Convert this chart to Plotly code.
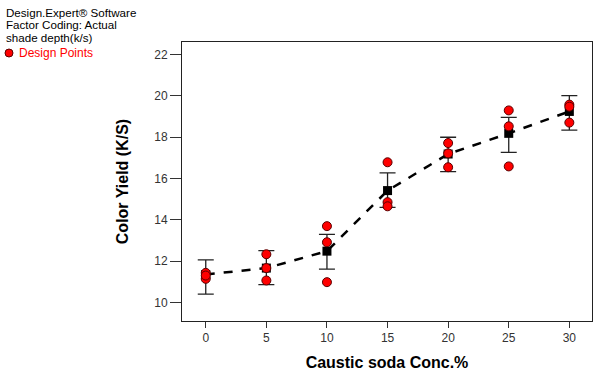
import plotly.graph_objects as go

conc = [0, 5, 10, 15, 20, 25, 30]
rep1 = [11.43, 12.33, 13.69, 16.78, 17.71, 19.29, 19.57]
rep2 = [11.14, 11.66, 12.91, 14.85, 17.21, 18.52, 19.47]
rep3 = [11.30, 11.06, 10.98, 14.65, 16.54, 16.58, 18.70]
mean_yield = [11.35, 11.66, 12.48, 15.41, 17.18, 18.18, 19.24]
err_plus = [0.71, 0.85, 0.81, 0.86, 0.81, 0.77, 0.77]
err_minus = [0.95, 0.80, 0.87, 0.81, 0.85, 0.92, 0.90]

header_lines = ["Design.Expert® Software", "Factor Coding: Actual", "shade depth(k/s)"]

FONT = "Arial, Liberation Sans, sans-serif"
PW, PH = 410, 279  # plot area size in px
L, T = 182, 42

def px(xp):
    return (xp - L) / PW

def py(yp):
    return 1 - (yp - T) / PH

fig = go.Figure()

fig.add_trace(go.Scatter(
    x=conc, y=mean_yield, mode="lines",
    line=dict(color="black", width=2.5, dash="dash"),
    showlegend=False, hoverinfo="skip"))

fig.add_trace(go.Scatter(
    x=conc, y=mean_yield, mode="markers",
    marker=dict(symbol="square", color="black", size=9),
    error_y=dict(type="data", symmetric=False, array=err_plus, arrayminus=err_minus,
                 color="#222222", thickness=1.3, width=8),
    showlegend=False))

xs = conc * 3
ys = rep1 + rep2 + rep3
fig.add_trace(go.Scatter(
    x=xs, y=ys, mode="markers", name="Design Points",
    marker=dict(symbol="circle", color="#ff0000", size=9,
                line=dict(color="#5a0000", width=1)),
    showlegend=False))

annotations = []
for i, line in enumerate(header_lines):
    annotations.append(dict(
        text=line, xref="paper", yref="paper", x=px(4), y=py(12.5 + 12.5 * i),
        xanchor="left", yanchor="middle", showarrow=False,
        font=dict(size=11.6, color="black", family=FONT)))
annotations.append(dict(
    text="Design Points", xref="paper", yref="paper", x=px(17), y=py(53),
    xanchor="left", yanchor="middle", showarrow=False,
    font=dict(size=12, color="#ff0000", family=FONT)))

fig.update_layout(
    width=600, height=375,
    margin=dict(l=L, r=600 - L - PW, t=T, b=375 - T - PH, autoexpand=False),
    paper_bgcolor="white", plot_bgcolor="white",
    font=dict(family=FONT, size=12, color="#333333"),
    xaxis=dict(range=[-1.96, 31.87], tickvals=conc, ticks="outside", ticklen=6,
               tickcolor="#333333", showgrid=False, zeroline=False, automargin=False,
               showline=True, linecolor="#222222", linewidth=1, mirror=True,
               title=dict(text="<b>Caustic soda Conc.%</b>", font=dict(size=16, color="black"),
                          standoff=12)),
    yaxis=dict(range=[9.1, 22.6], tickvals=[10, 12, 14, 16, 18, 20, 22], ticks="outside",
               ticklen=11, tickcolor="#333333", showgrid=False, zeroline=False, automargin=False,
               showline=True, linecolor="#222222", linewidth=1, mirror=True,
               title=dict(text="<b>Color Yield (K/S)</b>", font=dict(size=16, color="black"),
                          standoff=21)),
    annotations=annotations,
    shapes=[
        dict(type="circle", xref="paper", yref="paper",
             x0=px(5), x1=px(13), y0=py(57), y1=py(49),
             fillcolor="#ff0000", line=dict(color="#5a0000", width=1)),
    ],
)

fig.write_html("out.html", config={"displayModeBar": False},
               post_script="document.body.style.margin='0';document.body.style.overflow='hidden';")
